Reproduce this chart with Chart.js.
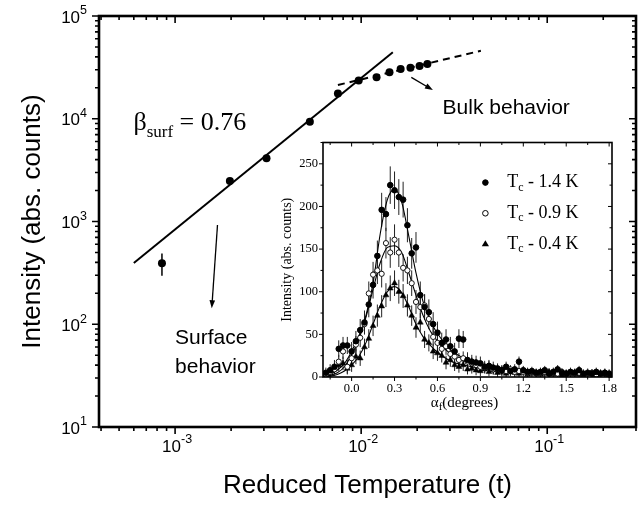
<!DOCTYPE html>
<html>
<head>
<meta charset="utf-8">
<script src="https://cdn.jsdelivr.net/npm/chart.js@4.4.1/dist/chart.umd.min.js"></script>
<style>
  body { margin: 0; background: #fff; }
  #wrap { position: relative; width: 642px; height: 506px; }
  #main { position: absolute; left: 0; top: 0; }
  #inset { position: absolute; left: 250px; top: 130px; }
</style>
</head>
<body>
<div id="wrap">
  <canvas id="main" width="642" height="506"></canvas>
  <canvas id="inset" width="380" height="290"></canvas>
</div>
<script>
// ---- main panel: intensity vs reduced temperature ----
var tMain   = [8.5e-4, 1.97e-3, 3.1e-3, 5.3e-3, 7.5e-3, 9.7e-3, 1.21e-2, 1.42e-2, 1.63e-2, 1.84e-2, 2.06e-2, 2.27e-2];
var intMain = [392, 2480, 4120, 9360, 17600, 23500, 25300, 28300, 30500, 31400, 32600, 34100];
var errMain = [95, 150, 220, 450, 800, 1000, 900, 1000, 1000, 1000, 1100, 1100];
var surfT = [6.0e-4, 1.48e-2];     // power law fit, beta_surf = 0.76
var surfI = [395, 44400];
var bulkT = [7.5e-3, 4.4e-2];      // bulk behaviour (dashed)
var bulkI = [21300, 45900];
var xDecades = [-4, -3, -2, -1];
var yDecades = [1, 2, 3, 4];
var yTop = 5;

// ---- inset: intensity vs exit angle ----
var alphaF = [-0.18,-0.15,-0.12,-0.09,-0.06,-0.03,0.00,0.03,0.06,0.09,
  0.12,0.15,0.18,0.21,0.24,0.27,0.30,0.33,0.36,0.39,
  0.42,0.45,0.48,0.51,0.54,0.57,0.60,0.63,0.66,0.69,
  0.72,0.75,0.78,0.81,0.84,0.87,0.90,0.93,0.96,0.99,
  1.02,1.05,1.08,1.11,1.14,1.17,1.20,1.23,1.26,1.29,
  1.32,1.35,1.38,1.41,1.44,1.47,1.50,1.53,1.56,1.59,
  1.62,1.65,1.68,1.71,1.74,1.77,1.80];
var int14 = [5,8,12,33,37,37,30,42,55,64,
  85,108,142,196,191,225,219,211,208,178,
  145,152,96,82,76,62,52,40,44,36,
  30,45,44,20,18,17,16,12,13,11,
  10,8,12,7,9,18,8,6,7,5,
  6,8,4,6,9,5,4,6,5,8,
  4,5,4,6,4,5,4];
var err14 = [6,7,8,10,10,10,11,12,13,14,
  15,16,18,20,20,22,22,21,21,20,
  18,18,16,15,15,14,13,12,12,11,
  10,11,10,9,8,8,8,7,7,7,
  6,6,6,6,6,6,5,5,5,5,
  5,5,5,5,5,5,5,5,5,5,
  5,5,5,5,5,5,5];
var int09 = [3,6,9,18,30,12,22,38,46,62,
  98,120,125,121,157,146,161,146,128,125,
  110,88,82,84,68,47,40,33,36,27,
  24,20,22,18,16,14,12,11,13,9,
  10,8,7,9,6,7,6,5,6,4,
  5,6,4,5,4,6,3,5,4,5,
  3,4,5,3,4,5,3];
var err09 = [4,5,6,8,9,8,9,10,11,12,
  14,15,16,16,18,18,18,17,16,16,
  15,14,13,13,12,11,10,10,10,9,
  8,8,8,7,7,7,6,6,6,6,
  5,5,5,5,5,5,5,4,4,4,
  4,4,4,4,4,4,4,4,4,4,
  4,4,4,4,4,4,4];
var int04 = [2,4,10,14,16,10,14,24,22,35,
  45,60,72,83,96,104,110,100,95,84,
  72,58,64,44,40,30,28,25,17,20,
  14,12,14,9,10,8,7,9,6,8,
  5,6,4,7,5,4,6,3,4,5,
  3,4,6,3,4,2,4,3,5,3,
  2,4,3,2,4,3,2];
var err04 = [3,4,6,7,8,7,8,9,9,10,
  11,12,13,13,14,15,15,14,14,13,
  12,12,11,10,10,9,9,8,8,8,
  7,7,7,6,6,6,6,5,5,5,
  5,5,5,5,5,4,4,4,4,4,
  4,4,4,4,4,4,4,4,4,4,
  4,4,4,4,4,4,4];
var fitA  = [-0.2,-0.15,-0.1,-0.05,0,0.05,0.1,0.15,0.2,0.25,0.3,0.35,0.4,0.45,0.5,0.55,0.6,0.7,0.8,0.9,1.0,1.2,1.4,1.6,1.8];
var fit14 = [1,3,8,16,30,48,72,110,168,208,220,205,165,122,88,66,51,31,21,15,11.5,7.5,5.5,4.5,3.5];
var fit09 = [0.5,2,5,12,26,44,70,103,134,152,154,146,122,96,72,54,42,26,18,13,10,6.5,4.8,3.8,3];
var fit04 = [0.3,1,3,7,14,24,40,62,84,100,106,99,82,62,47,37,29,18,13.5,10,8,5.5,4,3.2,2.6];
var insetXTicks = [0.0, 0.3, 0.6, 0.9, 1.2, 1.5, 1.8];
var insetYTicks = [0, 50, 100, 150, 200, 250];
var seriesTemps = ['1.4', '0.9', '0.4'];

Chart.defaults.color = '#000';
Chart.defaults.font.family = 'Liberation Sans';

function pts(xs, ys) { return xs.map(function (v, i) { return { x: v, y: ys[i] }; }); }

function decadeTicks(exps, min, max) {
  var out = [];
  exps.forEach(function (e) {
    for (var k = 1; k < 10; k++) {
      var v = +(k * Math.pow(10, e)).toPrecision(3);
      if (v >= min * 0.999 && v <= max * 1.001) out.push({ value: v, major: k === 1 });
    }
  });
  return out;
}

function rich(ctx, x, y, parts) {
  parts.forEach(function (p) {
    ctx.font = p[1];
    ctx.fillText(p[0], x, y + (p[2] || 0));
    x += ctx.measureText(p[0]).width;
  });
}
function richWidth(ctx, parts) {
  var w = 0;
  parts.forEach(function (p) { ctx.font = p[1]; w += ctx.measureText(p[0]).width; });
  return w;
}
function powParts(v) {
  var e = Math.round(Math.log10(v));
  return [['10', '17px "Liberation Sans"', 0], [String(e), '12.5px "Liberation Sans"', -7]];
}

function arrow(ctx, p0, p1, head) {
  var ang = Math.atan2(p1[1] - p0[1], p1[0] - p0[0]);
  var c = Math.cos(ang), s = Math.sin(ang);
  ctx.lineWidth = 1.3;
  ctx.beginPath();
  ctx.moveTo(p0[0], p0[1]);
  ctx.lineTo(p1[0] - c * head * 0.7, p1[1] - s * head * 0.7);
  ctx.stroke();
  ctx.beginPath();
  ctx.moveTo(p1[0], p1[1]);
  ctx.lineTo(p1[0] - head * c + head * 0.35 * s, p1[1] - head * s - head * 0.35 * c);
  ctx.lineTo(p1[0] - head * c - head * 0.35 * s, p1[1] - head * s + head * 0.35 * c);
  ctx.closePath();
  ctx.fill();
}

// box + ticks on all four sides (outward bottom/left, inward top/right)
var frame = {
  id: 'frame',
  afterDatasetsDraw: function (chart, args, o) {
    var ctx = chart.ctx, a = chart.chartArea, x = chart.scales.x, y = chart.scales.y;
    ctx.save();
    ctx.strokeStyle = '#000';
    ctx.lineWidth = o.tickWidth;
    ctx.beginPath();
    x.ticks.forEach(function (t) {
      var p = x.getPixelForValue(t.value), L = t.major ? o.major : o.minor;
      ctx.moveTo(p, a.bottom); ctx.lineTo(p, a.bottom + L);
      ctx.moveTo(p, a.top); ctx.lineTo(p, a.top + L);
    });
    y.ticks.forEach(function (t) {
      var p = y.getPixelForValue(t.value), L = t.major ? o.major : o.minor;
      ctx.moveTo(a.left, p); ctx.lineTo(a.left - L, p);
      ctx.moveTo(a.right, p); ctx.lineTo(a.right - L, p);
    });
    ctx.stroke();
    ctx.lineWidth = o.border;
    ctx.strokeRect(a.left, a.top, a.right - a.left, a.bottom - a.top);
    ctx.restore();
  }
};

var errorBars = {
  id: 'errorBars',
  beforeDatasetsDraw: function (chart) {
    var ctx = chart.ctx, y = chart.scales.y, a = chart.chartArea;
    ctx.save();
    ctx.beginPath();
    ctx.rect(a.left, a.top, a.right - a.left, a.bottom - a.top);
    ctx.clip();
    chart.data.datasets.forEach(function (ds, i) {
      if (!ds.errors) return;
      var meta = chart.getDatasetMeta(i);
      ctx.strokeStyle = ds.errorColor || '#000';
      ctx.lineWidth = ds.errorWidth || 1;
      ctx.beginPath();
      meta.data.forEach(function (pt, j) {
        var v = ds.data[j].y, e = ds.errors[j];
        ctx.moveTo(pt.x, y.getPixelForValue(Math.max(v - e, 1e-9)));
        ctx.lineTo(pt.x, y.getPixelForValue(v + e));
      });
      ctx.stroke();
    });
    ctx.restore();
  }
};

var mainNotes = {
  id: 'mainNotes',
  afterDatasetsDraw: function (chart) {
    var ctx = chart.ctx, x = chart.scales.x, y = chart.scales.y, a = chart.chartArea;
    function P(t, v) { return [x.getPixelForValue(t), y.getPixelForValue(v)]; }
    ctx.save();
    ctx.fillStyle = '#000';
    ctx.strokeStyle = '#000';
    // power-of-ten tick labels with real superscripts
    ctx.textBaseline = 'middle';
    x.ticks.forEach(function (t) {
      if (!t.major) return;
      var parts = powParts(t.value), w = richWidth(ctx, parts);
      rich(ctx, x.getPixelForValue(t.value) - w / 2 + 2, a.bottom + 20, parts);
    });
    y.ticks.forEach(function (t) {
      if (!t.major) return;
      var parts = powParts(t.value), w = richWidth(ctx, parts);
      rich(ctx, a.left - 12 - w, y.getPixelForValue(t.value) + 2, parts);
    });
    arrow(ctx, P(0.0186, 25300), P(0.0243, 19000), 8);
    arrow(ctx, P(1.69e-3, 925), P(1.574e-3, 143), 8);
    ctx.font = '21px "Liberation Sans"';
    var b = P(0.0274, 12700);
    ctx.fillText('Bulk behavior', b[0], b[1]);
    var s1 = P(1e-3, 73.5), s2 = P(1e-3, 38.4);
    ctx.fillText('Surface', s1[0], s1[1]);
    ctx.fillText('behavior', s2[0], s2[1]);
    ctx.textBaseline = 'alphabetic';
    var q = P(5.97e-4, 7770);
    rich(ctx, q[0], q[1], [
      ['\u03B2', '26px "Liberation Serif"', 0],
      ['surf', '17px "Liberation Serif"', 7],
      [' = 0.76', '26px "Liberation Serif"', 0]
    ]);
    ctx.restore();
  }
};

var insetNotes = {
  id: 'insetNotes',
  beforeDraw: function (chart) {
    var ctx = chart.ctx, a = chart.chartArea;
    ctx.save();
    ctx.fillStyle = '#fff';
    ctx.fillRect(a.left, a.top, a.right - a.left, a.bottom - a.top);
    ctx.restore();
  },
  afterDatasetsDraw: function (chart) {
    var ctx = chart.ctx, a = chart.chartArea, x = chart.scales.x, y = chart.scales.y;
    ctx.save();
    ctx.fillStyle = '#000';
    ctx.strokeStyle = '#000';
    ctx.lineWidth = 1;
    // legend
    var rows = [228, 192, 156];
    var mx = x.getPixelForValue(0.935), tx = x.getPixelForValue(1.087);
    rows.forEach(function (rv, i) {
      var py = y.getPixelForValue(rv);
      ctx.beginPath();
      if (i === 2) {
        ctx.moveTo(mx, py - 3.8); ctx.lineTo(mx + 3.6, py + 2.4); ctx.lineTo(mx - 3.6, py + 2.4); ctx.closePath();
        ctx.fill();
      } else {
        ctx.arc(mx, py, 2.8, 0, Math.PI * 2);
        ctx.fillStyle = i === 0 ? '#000' : '#fff';
        ctx.fill(); ctx.stroke();
        ctx.fillStyle = '#000';
      }
      ctx.textBaseline = 'middle';
      rich(ctx, tx, py, [
        ['T', '18px "Liberation Serif"', 0],
        ['c', '12px "Liberation Serif"', 5],
        [' - ' + seriesTemps[i] + ' K', '18px "Liberation Serif"', 0]
      ]);
    });
    // x axis title with subscript
    var parts = [
      ['\u03B1', '15px "Liberation Serif"', 0],
      ['f', '11px "Liberation Serif"', 4],
      ['(degrees)', '15px "Liberation Serif"', 0]
    ];
    ctx.textBaseline = 'middle';
    var w = richWidth(ctx, parts);
    rich(ctx, (a.left + a.right) / 2 - w / 2 - 3, a.bottom + 26, parts);
    ctx.restore();
  }
};

new Chart(document.getElementById('main'), {
  type: 'scatter',
  data: {
    datasets: [
      { data: pts(surfT, surfI), showLine: true, borderColor: '#000', borderWidth: 2, pointRadius: 0 },
      { data: pts(bulkT, bulkI), showLine: true, borderColor: '#000', borderWidth: 2, borderDash: [7, 5], pointRadius: 0 },
      { data: pts(tMain, intMain), errors: errMain, errorWidth: 1.5, pointRadius: 4, backgroundColor: '#000', borderColor: '#000', borderWidth: 0 }
    ]
  },
  options: {
    responsive: false,
    animation: false,
    events: [],
    layout: { padding: { top: 16, right: 6, left: 0, bottom: 0 } },
    plugins: {
      legend: { display: false },
      tooltip: { enabled: false },
      frame: { major: 7, minor: 4, tickWidth: 1.6, border: 2.6 }
    },
    scales: {
      x: {
        type: 'logarithmic', min: 3.9e-4, max: 0.3,
        afterBuildTicks: function (s) { s.ticks = decadeTicks(xDecades, 3.9e-4, 0.3); },
        afterFit: function (s) { s.height = 79; },
        grid: { display: false, drawTicks: false },
        border: { display: false },
        ticks: { display: false, autoSkip: false },
        title: { display: true, text: 'Reduced Temperature (t)', font: { size: 26 }, padding: { top: 0, bottom: 5 } }
      },
      y: {
        type: 'logarithmic', min: 10, max: 1e5,
        afterBuildTicks: function (s) { s.ticks = decadeTicks(yDecades, 10, 1e5).concat([{ value: Math.pow(10, yTop), major: true }]); },
        afterFit: function (s) { s.width = 99; },
        grid: { display: false, drawTicks: false },
        border: { display: false },
        ticks: { display: false, autoSkip: false },
        title: { display: true, text: 'Intensity (abs. counts)', font: { size: 26 }, padding: { top: 17, bottom: 0 } }
      }
    }
  },
  plugins: [errorBars, frame, mainNotes]
});

function minorBetween(majors, step, min, max) {
  var out = [];
  majors.forEach(function (m) { out.push({ value: m, major: true }); });
  majors.forEach(function (m) {
    [m - step, m + step].forEach(function (v) {
      v = +v.toFixed(4);
      if (v >= min && v <= max && !out.some(function (t) { return Math.abs(t.value - v) < 1e-6; })) out.push({ value: v, major: false });
    });
  });
  return out.sort(function (p, q) { return p.value - q.value; });
}

new Chart(document.getElementById('inset'), {
  type: 'scatter',
  data: {
    datasets: [
      { data: pts(alphaF, int14), errors: err14, errorColor: '#222', pointStyle: 'circle', pointRadius: 2.8, backgroundColor: '#000', borderColor: '#000', borderWidth: 1 },
      { data: pts(alphaF, int09), errors: err09, errorColor: '#222', pointStyle: 'circle', pointRadius: 2.6, backgroundColor: '#fff', borderColor: '#000', borderWidth: 0.9 },
      { data: pts(alphaF, int04), errors: err04, errorColor: '#222', pointStyle: 'triangle', pointRadius: 3.4, backgroundColor: '#000', borderColor: '#000', borderWidth: 0.5 },
      { data: pts(fitA, fit14), showLine: true, cubicInterpolationMode: 'monotone', borderColor: '#000', borderWidth: 1.1, pointRadius: 0 },
      { data: pts(fitA, fit09), showLine: true, cubicInterpolationMode: 'monotone', borderColor: '#000', borderWidth: 1.1, pointRadius: 0 },
      { data: pts(fitA, fit04), showLine: true, cubicInterpolationMode: 'monotone', borderColor: '#000', borderWidth: 1.1, pointRadius: 0 }
    ]
  },
  options: {
    responsive: false,
    animation: false,
    events: [],
    layout: { padding: { top: 10, right: 18, left: 0, bottom: 0 } },
    plugins: {
      legend: { display: false },
      tooltip: { enabled: false },
      frame: { major: 4, minor: 2.5, tickWidth: 1, border: 1.6 }
    },
    scales: {
      x: {
        type: 'linear', min: -0.2, max: 1.82,
        afterBuildTicks: function (s) { s.ticks = minorBetween(insetXTicks, 0.15, -0.2, 1.82); },
        afterFit: function (s) { s.height = 43; },
        grid: { display: false, drawTicks: false },
        border: { display: false },
        ticks: {
          autoSkip: false, maxRotation: 0, padding: 4,
          font: { family: 'Liberation Serif', size: 12.5 },
          callback: function (v) { return insetXTicks.some(function (m) { return Math.abs(m - v) < 1e-6; }) ? v.toFixed(1) : ''; }
        }
      },
      y: {
        type: 'linear', min: 0, max: 275,
        afterBuildTicks: function (s) { s.ticks = minorBetween(insetYTicks, 25, 0, 275); },
        afterFit: function (s) { s.width = 73; },
        grid: { display: false, drawTicks: false },
        border: { display: false },
        ticks: {
          autoSkip: false, padding: 5,
          font: { family: 'Liberation Serif', size: 12.5 },
          callback: function (v) { return insetYTicks.indexOf(v) >= 0 ? String(v) : ''; }
        },
        title: { display: true, text: 'Intensity (abs. counts)', font: { family: 'Liberation Serif', size: 14 }, padding: { top: 29, bottom: 0 } }
      }
    }
  },
  plugins: [insetNotes, errorBars, frame]
});
</script>
</body>
</html>
